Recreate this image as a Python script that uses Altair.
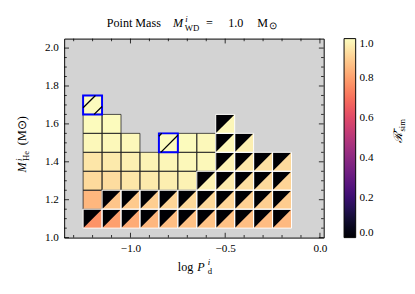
import altair as alt
import pandas as pd

# ---------------- data ----------------
x_cols = [-1.2, -1.1, -1.0, -0.9, -0.8, -0.7, -0.6, -0.5, -0.4, -0.3, -0.2]
y_rows = [1.1, 1.2, 1.3, 1.4, 1.5, 1.6, 1.7]

# colour value of each cell (lower-right triangle); None = no model
vals = [
    [0.775, 0.80, 0.825, 0.85, 0.865, 0.87, 0.875, 0.87, 0.865, 0.86, 0.855],    # 1.1
    [0.85, 0.88, 0.89, 0.90, 0.915, 0.92, 0.92, 0.915, 0.905, 0.90, 0.895],      # 1.2
    [0.925, 0.93, 0.95, 0.96, 0.968, 0.977, 0.977, 0.96, 0.935, 0.922, 0.912],   # 1.3
    [0.95, 0.96, 0.972, 0.98, 0.986, 0.99, 0.99, 0.977, 0.953, 0.938, 0.925],    # 1.4
    [0.99, 0.99, 0.99, None, 0.995, 0.995, 0.99, 0.985, 0.97, None, None],       # 1.5
    [0.995, 0.995, None, None, None, None, None, 0.985, None, None, None],       # 1.6
    [0.995, None, None, None, None, None, None, None, None, None, None],         # 1.7
]
# 1 = cell split diagonally (upper-left triangle = 0)
splits = [
    [1, 1, 1, 1, 1, 1, 1, 1, 1, 1, 1],
    [0, 1, 1, 1, 1, 1, 1, 1, 1, 1, 1],
    [0, 0, 0, 0, 0, 0, 1, 1, 1, 1, 1],
    [0, 0, 0, 0, 0, 0, 0, 1, 1, 1, 1],
    [0, 0, 0, 0, 0, 0, 0, 1, 1, 0, 0],
    [0, 0, 0, 0, 0, 0, 0, 1, 0, 0, 0],
    [0, 0, 0, 0, 0, 0, 0, 0, 0, 0, 0],
]
split_value = 0.0

blue_x = [-1.2, -0.8]
blue_y = [1.7, 1.5]
# hatch lines: (cell index, offset of the "/" line from the cell diagonal)
hatch_cell = [0, 0, 1, 1]
hatch_off = [0.035, -0.058, -0.01, 0.085]

half = 0.05
x_domain = [-1.35, 0.02]
y_domain = [1.0, 2.05]
x_major = [-1.0, -0.5, 0.0]
x_minor = [-1.3, -1.2, -1.1, -0.9, -0.8, -0.7, -0.6, -0.4, -0.3, -0.2, -0.1]
y_major = [1.0, 1.2, 1.4, 1.6, 1.8, 2.0]
y_minor = [1.05, 1.1, 1.15, 1.25, 1.3, 1.35, 1.45, 1.5, 1.55, 1.65, 1.7, 1.75,
           1.85, 1.9, 1.95]
cbar_values = [0.0, 0.2, 0.4, 0.6, 0.8, 1.0]

# ---------------- tables ----------------
cells = []
for yi, y in enumerate(y_rows):
    for xi, x in enumerate(x_cols):
        v = vals[yi][xi]
        if v is None:
            continue
        cells.append(dict(x0=x - half, x1=x + half, y0=y - half, y1=y + half,
                          v=v, split=splits[yi][xi]))
cells = pd.DataFrame(cells)

tri = []
for i, r in cells[cells.split == 1].reset_index(drop=True).iterrows():
    tri.append(dict(id=i, x0=r.x0, top=r.y1, bot=r.y0, v=split_value))
    tri.append(dict(id=i, x0=r.x1, top=r.y1, bot=r.y1, v=split_value))
tri = pd.DataFrame(tri)

blue = pd.DataFrame(dict(x0=[x - half for x in blue_x], x1=[x + half for x in blue_x],
                         y0=[y - half for y in blue_y], y1=[y + half for y in blue_y]))

hat = []
for ci, off in zip(hatch_cell, hatch_off):
    cx, cy = blue_x[ci], blue_y[ci]
    c = cy - cx + off
    xa = max(cx - half, cy - half - c)
    xb = min(cx + half, cy + half - c)
    hat.append(dict(x0=xa, y0=xa + c, x1=xb, y1=xb + c))
hat = pd.DataFrame(hat)

# ---------------- chart ----------------
W, H = 268, 205.5
FONT = "Liberation Serif"
xs = alt.Scale(domain=x_domain, nice=False, zero=False)
ys = alt.Scale(domain=y_domain, nice=False, zero=False)
cs = alt.Scale(scheme="magma", domain=[0, 1])

x_axis = alt.Axis(values=x_major, format=".1f", ticks=False, domain=False, grid=False,
                  title=None, labelFont=FONT, labelFontSize=11.5, labelPadding=5,
                  labelColor="black")
y_axis = alt.Axis(values=y_major, format=".1f", ticks=False, domain=False, grid=False,
                  title=None, labelFont=FONT, labelFontSize=11.5, labelPadding=6,
                  labelColor="black")

X = lambda f: alt.X(f, scale=xs, axis=x_axis)
Y = lambda f: alt.Y(f, scale=ys, axis=y_axis)

fill = alt.Chart(cells).mark_rect().encode(
    x=X("x0:Q"), x2="x1:Q", y=Y("y0:Q"), y2="y1:Q",
    color=alt.Color("v:Q", scale=cs, legend=alt.Legend(
        title=None, orient="right", offset=21, direction="vertical",
        gradientLength=H, gradientThickness=12, values=cbar_values, format=".1f",
        labelFont=FONT, labelFontSize=11.5, labelOffset=4, labelOverlap=False,
        labelBaseline="middle",
        labelColor="black", gradientStrokeColor="black", gradientStrokeWidth=1,
        padding=0)),
)

tris = alt.Chart(tri).mark_area(interpolate="linear").encode(
    x=X("x0:Q"), y=Y("top:Q"), y2="bot:Q",
    color=alt.Color("v:Q", scale=cs, legend=None),
    detail="id:N",
)

edge_dark = alt.Chart(cells[cells.split == 0]).mark_rect(
    fillOpacity=0, stroke="#222222", strokeWidth=0.8).encode(
    x=X("x0:Q"), x2="x1:Q", y=Y("y0:Q"), y2="y1:Q")

edge_white = alt.Chart(cells[cells.split == 1]).mark_rect(
    fillOpacity=0, stroke="white", strokeWidth=1).encode(
    x=X("x0:Q"), x2="x1:Q", y=Y("y0:Q"), y2="y1:Q")

hatch = alt.Chart(hat).mark_rule(color="black", strokeWidth=1.3).encode(
    x=X("x0:Q"), x2="x1:Q", y=Y("y0:Q"), y2="y1:Q")

blue_box = alt.Chart(blue).mark_rect(
    fillOpacity=0, stroke="#0000ff", strokeWidth=2).encode(
    x=X("x0:Q"), x2="x1:Q", y=Y("y0:Q"), y2="y1:Q")


def xticks(values, length):
    d = pd.DataFrame({"x0": values})
    b = alt.Chart(d).mark_rule(color="black", strokeWidth=0.8).encode(
        x=X("x0:Q"), y=alt.value(H), y2=alt.value(H - length))
    t = alt.Chart(d).mark_rule(color="black", strokeWidth=0.8).encode(
        x=X("x0:Q"), y=alt.value(0), y2=alt.value(length))
    return [b, t]


def yticks(values, length):
    d = pd.DataFrame({"y0": values})
    l = alt.Chart(d).mark_rule(color="black", strokeWidth=0.8).encode(
        y=Y("y0:Q"), x=alt.value(0), x2=alt.value(length))
    r = alt.Chart(d).mark_rule(color="black", strokeWidth=0.8).encode(
        y=Y("y0:Q"), x=alt.value(W), x2=alt.value(W - length))
    return [l, r]


ticks = xticks(x_major, 5) + xticks(x_minor, 2.7) + yticks(y_major, 5) + yticks(y_minor, 2.7)


def txt(s, px, py, size=12.5, italic=False, angle=0):
    kw = dict(font=FONT, fontSize=size, align="left", baseline="alphabetic",
              color="black", angle=angle)
    if italic:
        kw["fontStyle"] = "italic"
    return alt.Chart(pd.DataFrame({"s": [s]})).mark_text(**kw).encode(
        text="s:N", x=alt.value(px), y=alt.value(py))


texts = [
    # title
    txt("Point Mass", 44, -11.7),
    txt("M", 112.3, -11.7, italic=True),
    txt("i", 125, -17, size=9, italic=True),
    txt("WD", 124.5, -8, size=9),
    txt("=", 146.5, -11.7),
    txt("1.0", 169.3, -11.7),
    txt("M", 199.3, -11.7),
    txt("⊙", 211, -10, size=10),
    # x title
    txt("log", 117.3, 240),
    txt("P", 137.3, 240, italic=True),
    txt("i", 148.3, 233.5, size=9, italic=True),
    txt("d", 148.3, 243.5, size=9),
    # y title
    txt("M", -39, 138.3, italic=True, angle=270),
    txt("i", -43.5, 126.5, size=9, italic=True, angle=270),
    txt("He", -36, 126.5, size=9, angle=270),
    txt("(M⊙)", -39, 110, angle=270),
    # colorbar title
    txt("ℛ̄", 349, 108.3, italic=True, angle=270),
    txt("sim", 351.5, 96, size=9, angle=270),
]

chart = alt.layer(fill, tris, edge_dark, edge_white, blue_box, hatch, *ticks, *texts).properties(
    width=W, height=H,
    autosize=alt.AutoSizeParams(type="none"),
    padding={"left": 58, "top": 27, "right": 86, "bottom": 50},
).configure_view(fill="#d3d3d3", stroke="black", strokeWidth=1)

chart.save("out.html", embed_options={"renderer": "svg", "actions": False})
